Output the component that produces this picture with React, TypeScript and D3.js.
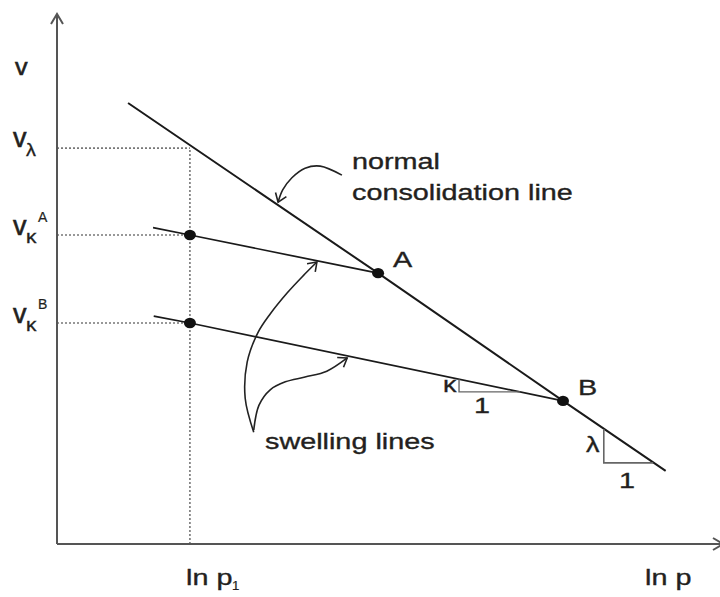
import React from "react";
import * as d3 from "d3";

const W = 720;
const H = 597;

// ---- data (abstract units: ln p on x, v on y) ----
const axisLnP = [0, 100];
const axisV = [0, 100];

const nclLnP = [10.8, 48.8, 76.9, 92.5];
const nclV = [83.2, 51.1, 27.0, 13.8];

const swellALnP = [14.6, 20.2, 48.8];
const swellAV = [59.7, 58.3, 51.1];
const swellBLnP = [14.7, 20.2, 76.9];
const swellBV = [43.0, 41.7, 27.0];

const lnP1 = 20.2;
const vLambda = 74.7;
const vKappaA = 58.3;
const vKappaB = 41.7;

const pointNames = ["A", "B"];
const pointLnP = [48.8, 76.9];
const pointV = [51.1, 27.0];

const kappaTriLnP = [61.1, 61.1, 70.4];
const kappaTriV = [31.1, 28.7, 28.7];
const lambdaTriLnP = [83.1, 83.1, 90.6];
const lambdaTriV = [21.7, 15.3, 15.3];

// annotation arrows
const nclArrowLnP = [43.3, 40.0, 37.7, 35.7, 34.3, 33.6];
const nclArrowV = [69.6, 71.3, 70.9, 69.1, 66.8, 64.5];
const swArrow1LnP = [29.9, 28.6, 28.9, 30.5, 32.4, 35.0, 37.4, 39.5];
const swArrow1V = [21.1, 27.5, 34.3, 39.8, 43.4, 47.4, 50.6, 53.2];
const swArrow2LnP = [29.9, 30.7, 32.4, 34.7, 37.7, 41.0, 44.1];
const swArrow2V = [21.5, 26.2, 29.1, 30.6, 31.5, 32.6, 35.1];

const x = d3.scaleLinear().domain([0, 100]).range([57, 715]);
const y = d3.scaleLinear().domain([0, 100]).range([544, 14]);

const zip = (a: number[], b: number[]) => a.map((v, i) => [v, b[i]] as [number, number]);
const line = d3.line<[number, number]>().x((d) => x(d[0])).y((d) => y(d[1]));
const curve = d3
  .line<[number, number]>()
  .x((d) => x(d[0]))
  .y((d) => y(d[1]))
  .curve(d3.curveCatmullRom.alpha(0.5));

const TXT = "#231f20";
const FONT = "'Liberation Sans', Arial, Helvetica, sans-serif";
const SX = 1.28;

function Label({ x0, y0, text, size = 22.5, sx = SX, anchor = "start", sw = 0.35 }: any) {
  return (
    <text
      transform={`translate(${x0},${y0}) scale(${sx},1)`}
      fontFamily={FONT}
      fontSize={size}
      fill={TXT}
      stroke={TXT}
      strokeWidth={sw}
      textAnchor={anchor}
    >
      {text}
    </text>
  );
}

function arrowHead(pts: [number, number][], len = 10, ang = 0.62) {
  const n = pts.length;
  const tx = x(pts[n - 1][0]);
  const ty = y(pts[n - 1][1]);
  const px = x(pts[n - 2][0]);
  const py = y(pts[n - 2][1]);
  const a = Math.atan2(py - ty, px - tx);
  const a1 = a + ang;
  const a2 = a - ang;
  return `M${tx + len * Math.cos(a1)},${ty + len * Math.sin(a1)} L${tx},${ty} L${tx + len * Math.cos(a2)},${ty + len * Math.sin(a2)}`;
}

export default function App() {
  const ncl = zip(nclLnP, nclV);
  const swA = zip(swellALnP, swellAV);
  const swB = zip(swellBLnP, swellBV);
  const a0 = zip(nclArrowLnP, nclArrowV);
  const a1 = zip(swArrow1LnP, swArrow1V);
  const a2 = zip(swArrow2LnP, swArrow2V);
  const kTri = zip(kappaTriLnP, kappaTriV);
  const lTri = zip(lambdaTriLnP, lambdaTriV);

  const x0 = x(axisLnP[0]);
  const x1 = x(axisLnP[1]);
  const y0 = y(axisV[0]);
  const y1 = y(axisV[1]);

  const dotStyle = { stroke: "#777", strokeWidth: 1.6, strokeDasharray: "2,2", fill: "none" } as const;

  return (
    <svg
      width={W}
      height={H}
      viewBox={`0 0 ${W} ${H}`}
      style={{ position: "absolute", left: 0, top: 0, background: "#fff" }}
    >
      <rect width={W} height={H} fill="#fff" />
      {/* dotted guides */}
      <line x1={x(lnP1)} x2={x(lnP1)} y1={y0} y2={y(vLambda)} {...dotStyle} />
      {[vLambda, vKappaA, vKappaB].map((v, i) => (
        <line key={i} x1={x0} x2={x(lnP1)} y1={y(v)} y2={y(v)} {...dotStyle} />
      ))}

      {/* axes */}
      <line x1={x0} x2={x0} y1={y0} y2={y1} stroke="#555" strokeWidth={2} />
      <line x1={x0} x2={x1 + 5} y1={y0} y2={y0} stroke="#555" strokeWidth={2} />
      <path d={`M${x0 - 6},${y1 + 10} L${x0},${y1} L${x0 + 6},${y1 + 10}`} stroke="#555" strokeWidth={2} fill="none" />
      <path d={`M${x1 - 2},${y0 - 6} L${x1 + 8},${y0} L${x1 - 2},${y0 + 6}`} stroke="#555" strokeWidth={2} fill="none" />

      {/* normal consolidation line */}
      <path d={line(ncl) || ""} stroke="#1a1a1a" strokeWidth={2} fill="none" />
      {/* swelling lines */}
      <path d={line(swA) || ""} stroke="#1a1a1a" strokeWidth={1.7} fill="none" />
      <path d={line(swB) || ""} stroke="#1a1a1a" strokeWidth={1.7} fill="none" />

      {/* slope triangles */}
      <path d={line(kTri) || ""} stroke="#666" strokeWidth={1.4} fill="none" />
      <path d={line(lTri) || ""} stroke="#666" strokeWidth={1.6} fill="none" />

      {/* dots */}
      {pointNames.map((n, i) => (
        <ellipse key={n} cx={x(pointLnP[i])} cy={y(pointV[i])} rx={6} ry={5.2} fill="#111" />
      ))}
      <ellipse cx={x(lnP1)} cy={y(vKappaA)} rx={6} ry={5.2} fill="#111" />
      <ellipse cx={x(lnP1)} cy={y(vKappaB)} rx={6} ry={5.2} fill="#111" />

      {/* annotation arrows */}
      {[a0, a1, a2].map((pts, i) => (
        <g key={i} stroke="#222" strokeWidth={1.6} fill="none">
          <path d={curve(pts) || ""} />
          <path d={arrowHead(pts)} />
        </g>
      ))}

      {/* labels */}
      <Label x0={352} y0={169} text="normal" />
      <Label x0={352} y0={200} text="consolidation line" />
      <Label x0={265} y0={449} text="swelling lines" />
      {pointNames.map((n, i) => (
        <Label key={n} x0={x(pointLnP[i]) + 15} y0={y(pointV[i]) - 6} text={n} />
      ))}
      <Label x0={443} y0={392} text="κ" sx={1.2} />
      <Label x0={482} y0={413} text="1" anchor="middle" />
      <Label x0={586} y0={452} text="λ" sx={1.2} />
      <Label x0={627} y0={488} text="1" anchor="middle" />

      {/* axis labels */}
      <Label x0={15} y0={75} text="v" size={24} sx={1.05} sw={0.6} />
      <Label x0={13} y0={147} text="v" size={27} sx={1} sw={0.6} />
      <Label x0={26} y0={156} text="λ" size={18} sx={1.1} />
      <Label x0={13} y0={235} text="v" size={27} sx={1} sw={0.6} />
      <Label x0={26} y0={243} text="κ" size={19} sx={1.1} />
      <Label x0={38} y0={222} text="A" size={14} sx={1} sw={0.2} />
      <Label x0={13} y0={323} text="v" size={27} sx={1} sw={0.6} />
      <Label x0={26} y0={331} text="κ" size={19} sx={1.1} />
      <Label x0={38} y0={309} text="B" size={14} sx={1} sw={0.2} />

      <Label x0={186} y0={585} text="ln p" />
      <Label x0={232} y0={590} text="1" size={12} sx={1.1} sw={0.2} />
      <Label x0={645} y0={585} text="ln p" />
    </svg>
  );
}
